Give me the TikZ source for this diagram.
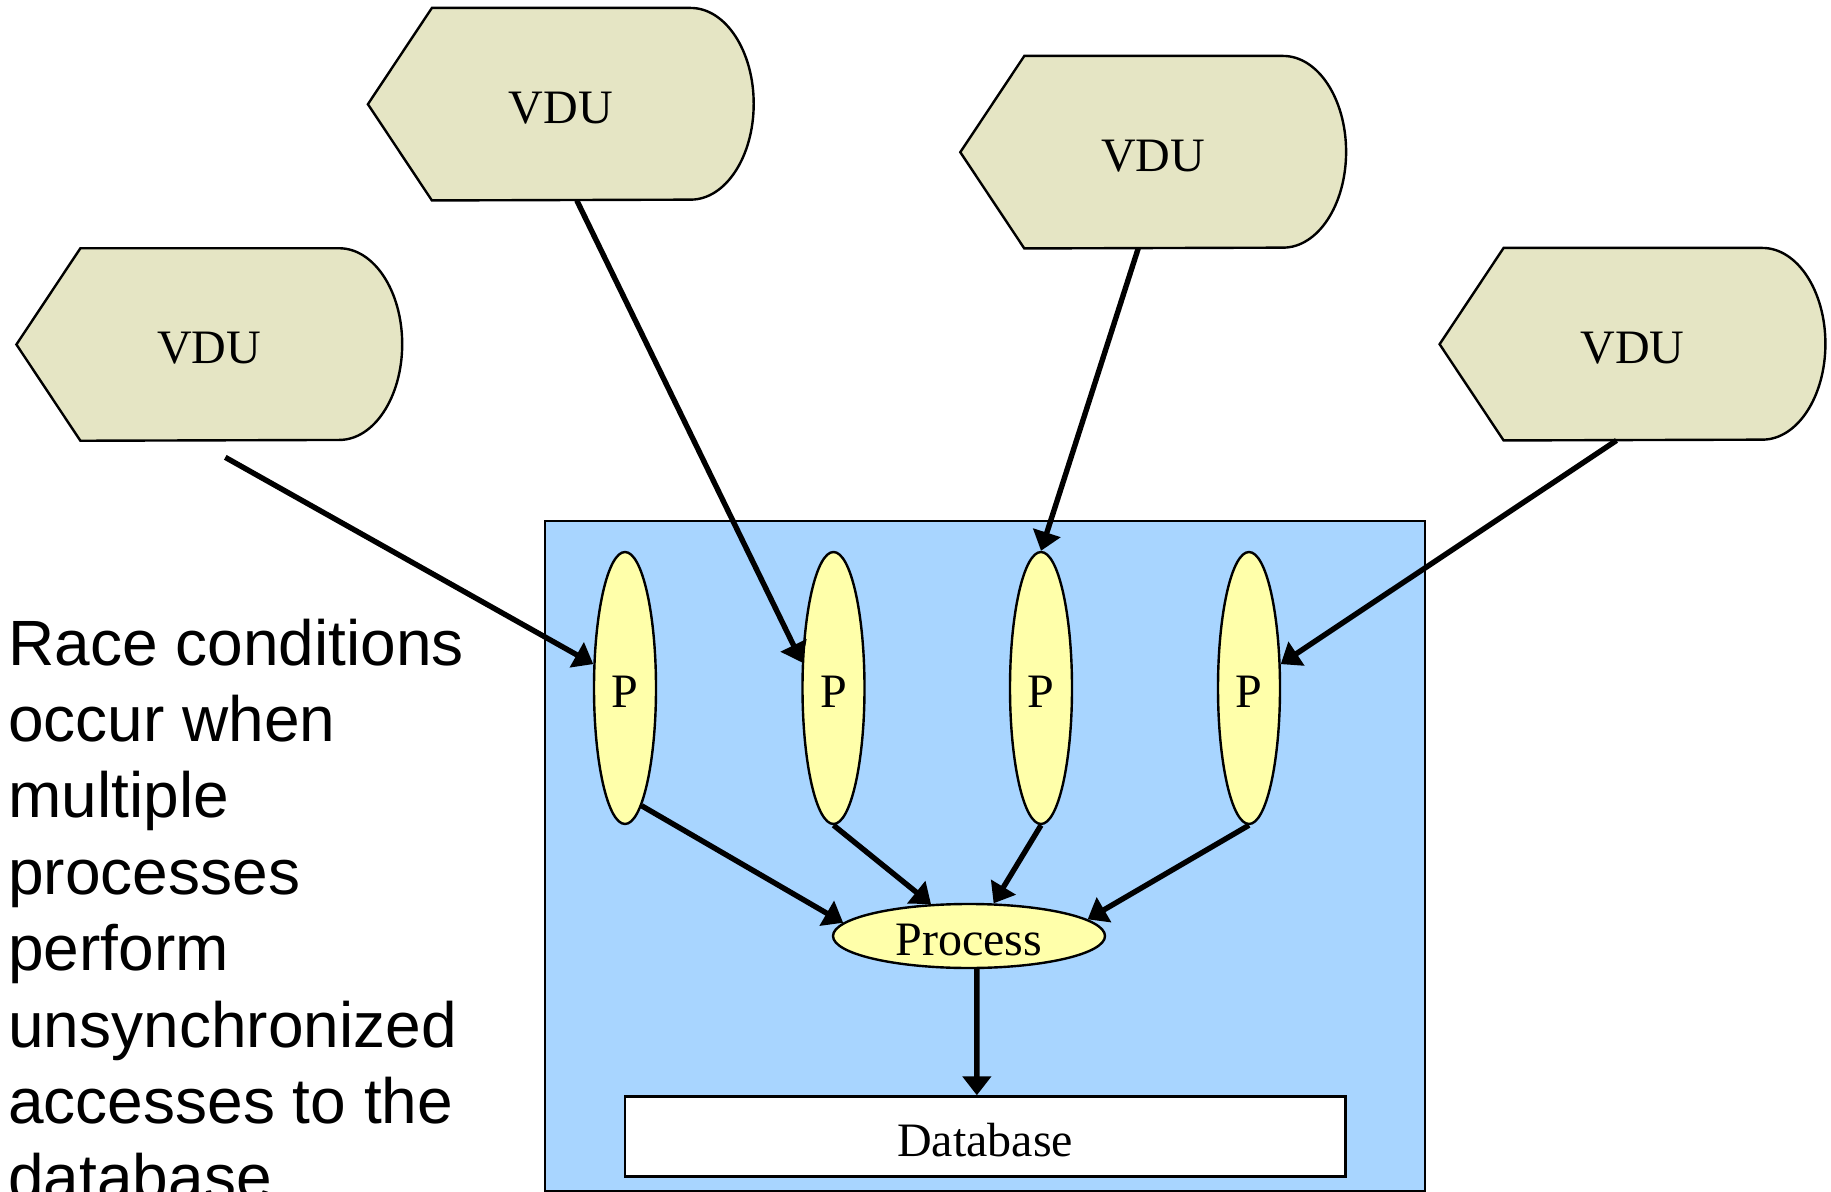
\documentclass[tikz,border=0pt]{standalone}
\usepackage{fontspec}
\setmainfont{Liberation Serif}
\newfontfamily\arialfont{Liberation Sans}
\usetikzlibrary{arrows.meta,shapes.geometric,calc}
\definecolor{vdufill}{RGB}{229,229,196}
\definecolor{pfill}{RGB}{255,255,170}
\definecolor{boxblue}{RGB}{168,213,255}
\pgfdeclarelayer{bg}
\pgfsetlayers{bg,main}
\newcommand\vdudraw[1]{%
  \filldraw[vdushape] (#1.west) -- ($(#1.north west)+(32pt,0)$) -- ($(#1.north east)+(-31.5pt,0)$)
    arc[start angle=90,end angle=-90,x radius=31.5pt,y radius=47.925pt]
    -- ($(#1.south west)+(32pt,0)$) -- cycle;}
\begin{document}
\begin{tikzpicture}[x=0.5pt,y=-0.5pt,
  lbl/.style={font=\fontsize{24}{28}\selectfont, text height=19.5pt, text depth=0pt},
  vdubox/.style={lbl, minimum width=192.5pt, minimum height=95.85pt, inner sep=0pt},
  vdushape/.style={fill=vdufill, draw=black, line width=1.2pt, line join=miter},
  pnode/.style={lbl, ellipse, draw, fill=pfill, line width=1.2pt, minimum width=31pt, minimum height=136pt, inner sep=0pt},
  procnode/.style={lbl, ellipse, draw, fill=pfill, line width=1.2pt, minimum width=136pt, minimum height=32pt, inner sep=0pt},
  dbnode/.style={lbl, draw, fill=white, line width=1.2pt, minimum width=360.25pt, minimum height=40pt, inner sep=0pt},
  container/.style={draw, fill=boxblue, line width=1pt, minimum width=439.8pt, minimum height=335pt, inner sep=0pt},
  conn/.style={line width=2.7pt, -{Triangle[length=9.5pt,width=14pt]}},
]
\useasboundingbox (0,0) rectangle (1831,1192);
\clip (0,0) rectangle (1831,1192);

% VDU terminals
\node[vdubox] (v1) at (209.3,344.5) {VDU};
\node[vdubox] (v2) at (560.8,104.2) {VDU};
\node[vdubox] (v3) at (1153.2,152.2) {VDU};
\node[vdubox] (v4) at (1632.5,344.2) {VDU};
\begin{pgfonlayer}{bg}
  \vdudraw{v1}\vdudraw{v2}\vdudraw{v3}\vdudraw{v4}
\end{pgfonlayer}

% container
\node[container] (box) at (984.8,856) {};

% processes
\node[pnode] (p1) at (625,688) {P};
\node[pnode] (p2) at (833.5,688) {P};
\node[pnode] (p3) at (1041,688) {P};
\node[pnode] (p4) at (1249,688) {P};
\node[procnode] (proc) at (969,936) {Process};
\node[dbnode] (db) at (985.25,1136.5) {Database};

% left text
\node[anchor=base west, inner sep=0pt] (txt) at (8,665)
  {\parbox[t]{280pt}{\raggedright\arialfont\fontsize{32}{38.2}\selectfont
   Race conditions\\occur when\\multiple\\processes\\perform\\unsynchronized\\accesses to the\\database}};

% connectors
\draw[conn] ([xshift=8pt,yshift=-8.3pt]v1.south) -- (p1.143);
\draw[conn] ([xshift=8pt]v2.south) -- (p2.141);
\draw[conn] ([xshift=-7.5pt]v3.south) -- (p3.north);
\draw[conn] ([xshift=-8pt]v4.south) -- (p4.37);

\draw[conn] (p1.-82) -- (proc.174);
\draw[conn] (p2.south) -- (proc.140);
\draw[conn] (p3.south) -- (proc.53);
\draw[conn] (p4.south) -- (proc.8);

\draw[conn] ([xshift=3.9pt]proc.south) -- ([xshift=-4.2pt]db.north);
\end{tikzpicture}
\end{document}
